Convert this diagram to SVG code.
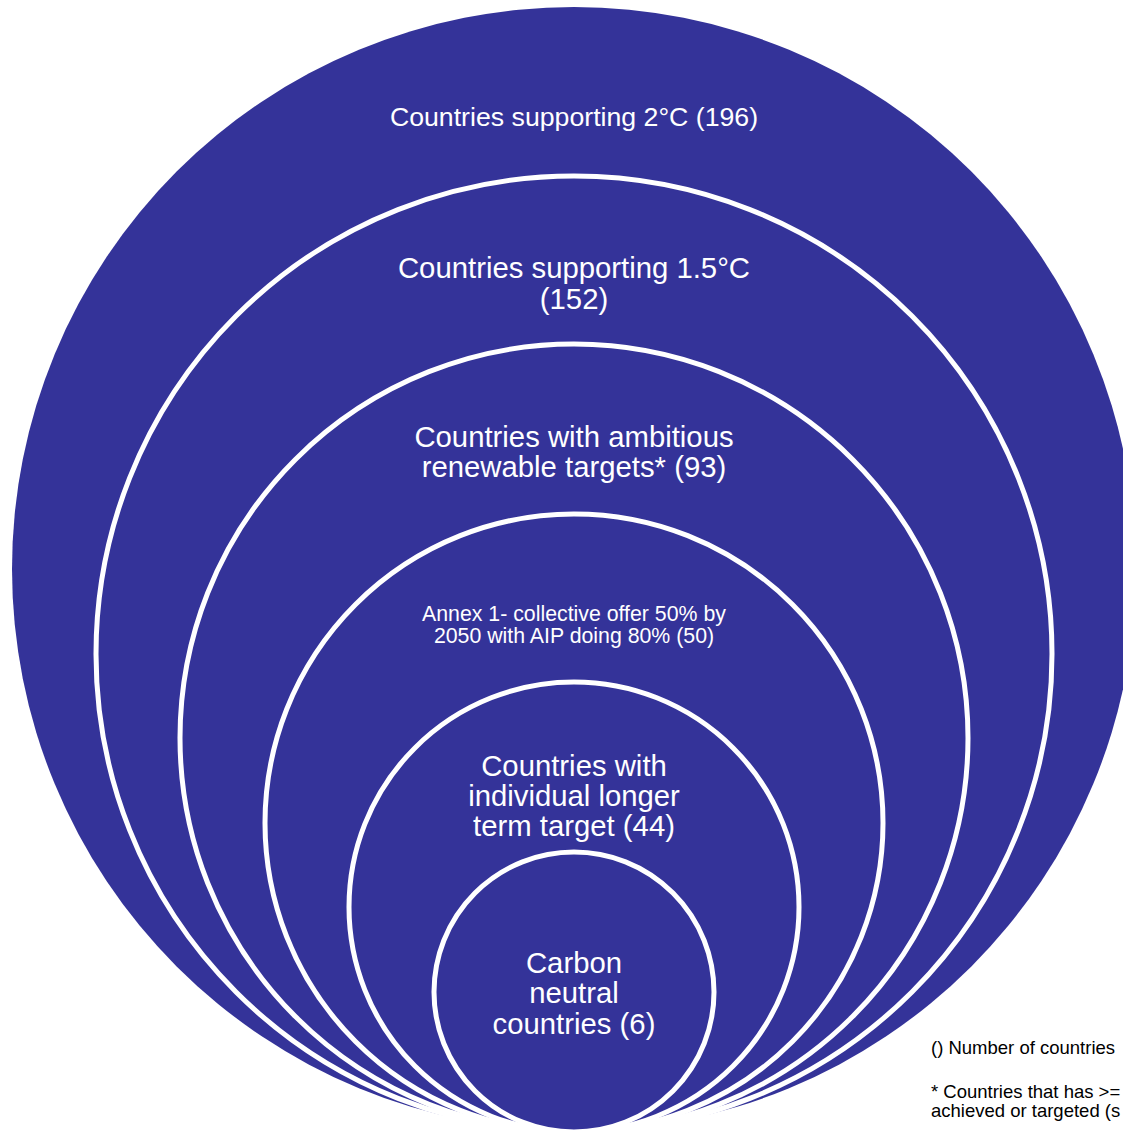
<svg xmlns="http://www.w3.org/2000/svg" width="1123" height="1132" viewBox="0 0 1123 1132">
  <style>
    .ring { fill: #343399; stroke: #ffffff; stroke-width: 5; }
    .outer { fill: #343399; stroke: none; }
    .lbl { fill: #ffffff; font-family: "Liberation Sans", Arial, sans-serif; text-anchor: middle; }
    .big { font-size: 29.3px; }
    .mid { font-size: 26.7px; }
    .small { font-size: 21.3px; }
    .legend { fill: #000000; font-family: "Liberation Sans", Arial, sans-serif; font-size: 18.5px; }
  </style>
  <rect x="0" y="0" width="1123" height="1132" fill="#ffffff"/>
  <g id="node-2c">
    <circle class="outer" cx="574" cy="569" r="562"/>
    <text class="lbl mid" x="574" y="126">Countries supporting 2°C (196)</text>
  </g>
  <g id="node-1-5c">
    <circle class="ring" cx="574" cy="654" r="478"/>
    <text class="lbl big" x="574" y="278">Countries supporting 1.5°C</text>
    <text class="lbl big" x="574" y="309">(152)</text>
  </g>
  <g id="node-renewable">
    <circle class="ring" cx="574" cy="738" r="394"/>
    <text class="lbl big" x="574" y="447">Countries with ambitious</text>
    <text class="lbl big" x="574" y="477">renewable targets* (93)</text>
  </g>
  <g id="node-annex1">
    <circle class="ring" cx="574" cy="823" r="309"/>
    <text class="lbl small" x="574" y="621">Annex 1- collective offer 50% by</text>
    <text class="lbl small" x="574" y="643">2050 with AIP doing 80% (50)</text>
  </g>
  <g id="node-longterm">
    <circle class="ring" cx="574" cy="907" r="225"/>
    <text class="lbl big" x="574" y="776">Countries with</text>
    <text class="lbl big" x="574" y="806">individual longer</text>
    <text class="lbl big" x="574" y="836">term target (44)</text>
  </g>
  <g id="node-carbon-neutral">
    <circle class="ring" cx="574" cy="992" r="140"/>
    <text class="lbl big" x="574" y="973">Carbon</text>
    <text class="lbl big" x="574" y="1003">neutral</text>
    <text class="lbl big" x="574" y="1034">countries (6)</text>
  </g>
  <g id="legend">
    <text class="legend" x="931" y="1054">() Number of countries</text>
    <text class="legend" x="931" y="1098">* Countries that has &gt;=</text>
    <text class="legend" x="931" y="1117">achieved or targeted (s</text>
  </g>
</svg>
